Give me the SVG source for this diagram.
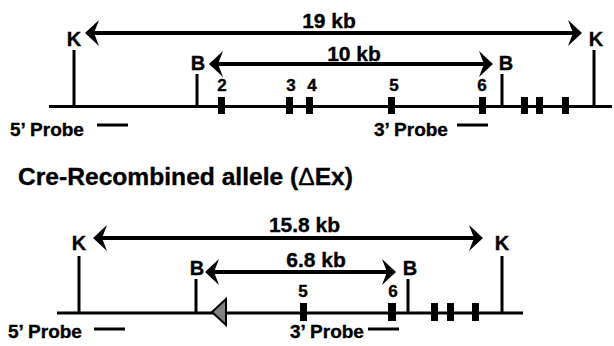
<svg xmlns="http://www.w3.org/2000/svg" width="614" height="346" viewBox="0 0 614 346">
<style>
text{font-family:"Liberation Sans",Arial,sans-serif;font-weight:bold;fill:#000;stroke:#000;stroke-width:0.35}
.site{font-size:20px;text-anchor:middle}
.kb{font-size:21px;text-anchor:middle}
.num{font-size:17px;text-anchor:middle}
.probe{font-size:19px}
.title{font-size:23.5px}
.dna{stroke:#000;stroke-width:3;fill:none}
.tick{stroke:#000;stroke-width:3}
.exon{fill:#000}
.arr{stroke:#000;stroke-width:4;marker-start:url(#ah);marker-end:url(#ah)}
.pl{stroke:#000;stroke-width:3}
</style>
<defs>
<marker id="ah" viewBox="0 0 14 26" refX="5" refY="13" markerWidth="14" markerHeight="26" markerUnits="userSpaceOnUse" orient="auto-start-reverse">
<path d="M0,0 L14,13 L0,26 L5,13 Z" fill="#000"/>
</marker>
</defs>
<rect width="614" height="346" fill="#fff"/>

<!-- Top: floxed allele -->
<g id="top-dna"><line class="dna" x1="49" y1="106.5" x2="612" y2="106.5"/></g>
<g id="top-K1"><line class="tick" x1="74" y1="50" x2="74" y2="106"/><text class="site" x="74" y="46">K</text></g>
<g id="top-B1"><line class="tick" x1="197" y1="74" x2="197" y2="106"/><text class="site" x="198" y="70">B</text></g>
<g id="top-B2"><line class="tick" x1="502" y1="74" x2="502" y2="106"/><text class="site" x="506" y="70">B</text></g>
<g id="top-K2"><line class="tick" x1="594" y1="50" x2="594" y2="106"/><text class="site" x="596" y="46">K</text></g>
<g id="top-ex2"><rect class="exon" x="218" y="97" width="7" height="17"/><text class="num" x="222" y="91">2</text></g>
<g id="top-ex3"><rect class="exon" x="286" y="97" width="7" height="17"/><text class="num" x="291" y="91">3</text></g>
<g id="top-ex4"><rect class="exon" x="306" y="97" width="7" height="17"/><text class="num" x="312" y="91">4</text></g>
<g id="top-ex5"><rect class="exon" x="388" y="97" width="7" height="17"/><text class="num" x="394" y="91">5</text></g>
<g id="top-ex6"><rect class="exon" x="479" y="97" width="7" height="17"/><text class="num" x="482" y="91">6</text></g>
<g id="top-ex7"><rect class="exon" x="521" y="97" width="7" height="17"/></g>
<g id="top-ex8"><rect class="exon" x="536" y="97" width="7" height="17"/></g>
<g id="top-ex9"><rect class="exon" x="562" y="97" width="7" height="17"/></g>
<g id="top-probe5"><text class="probe" x="10" y="135.5">5’ Probe</text><line class="pl" x1="97" y1="125" x2="128" y2="125"/></g>
<g id="top-probe3"><text class="probe" x="374" y="135.5">3’ Probe</text><line class="pl" x1="457" y1="125" x2="488" y2="125"/></g>
<g id="top-19kb"><text class="kb" x="329" y="27.5">19 kb</text></g>
<g id="top-10kb"><text class="kb" x="354" y="60.5">10 kb</text></g>

<!-- Title -->
<g id="title"><text class="title" x="18" y="184.5" textLength="335" lengthAdjust="spacingAndGlyphs">Cre-Recombined allele (<tspan font-weight="normal">Δ</tspan>Ex)</text></g>

<!-- Bottom: recombined allele -->
<g id="bot-dna"><line class="dna" x1="57" y1="313" x2="523" y2="313"/></g>
<g id="bot-K1"><line class="tick" x1="79" y1="256" x2="79" y2="313"/><text class="site" x="79" y="250">K</text></g>
<g id="bot-B1"><line class="tick" x1="196" y1="279" x2="196" y2="313"/><text class="site" x="197" y="275">B</text></g>
<g id="bot-loxP"><polygon points="212,312 226,299 226,325" fill="#808080" stroke="#000" stroke-width="2" stroke-linejoin="miter"/></g>
<g id="bot-ex5"><rect class="exon" x="300" y="303" width="7" height="18"/><text class="num" x="303" y="297">5</text></g>
<g id="bot-ex6"><rect class="exon" x="388" y="303" width="8" height="18"/><text class="num" x="393" y="297">6</text></g>
<g id="bot-B2"><line class="tick" x1="408" y1="279" x2="408" y2="313"/><text class="site" x="410" y="275">B</text></g>
<g id="bot-ex7"><rect class="exon" x="431" y="303" width="7" height="18"/></g>
<g id="bot-ex8"><rect class="exon" x="447" y="303" width="7" height="18"/></g>
<g id="bot-ex9"><rect class="exon" x="472" y="303" width="7" height="18"/></g>
<g id="bot-K2"><line class="tick" x1="502" y1="256" x2="502" y2="313"/><text class="site" x="502" y="250">K</text></g>
<g id="bot-probe5"><text class="probe" x="8" y="338">5’ Probe</text><line class="pl" x1="94" y1="329" x2="125" y2="329"/></g>
<g id="bot-probe3"><text class="probe" x="290" y="338">3’ Probe</text><line class="pl" x1="368" y1="329" x2="399" y2="329"/></g>
<g id="bot-15kb"><text class="kb" x="304.5" y="232">15.8 kb</text></g>
<g id="bot-6kb"><text class="kb" x="316" y="267">6.8 kb</text></g>

<g id="connectors">
<line class="arr" x1="94" y1="33" x2="573" y2="33"/>
<line class="arr" x1="218" y1="64" x2="484" y2="64"/>
<line class="arr" x1="102" y1="238" x2="474" y2="238"/>
<line class="arr" x1="214" y1="272" x2="387" y2="272"/>
</g>
</svg>
